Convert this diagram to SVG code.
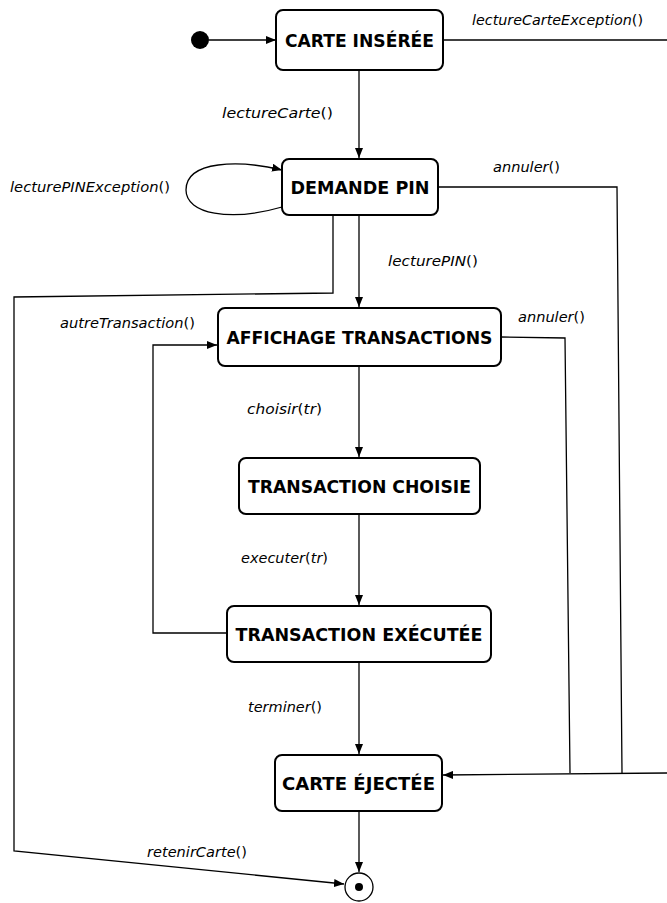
<svg xmlns="http://www.w3.org/2000/svg" width="667" height="903" viewBox="0 0 667 903">
<style>
.box{fill:#fff;stroke:#000;stroke-width:2}
.t{font-family:"DejaVu Sans","Open Sans",sans-serif;font-weight:bold;font-size:17.5px;text-anchor:middle;fill:#000}
.l{font-family:"DejaVu Sans","Open Sans",sans-serif;font-style:italic;font-size:13.5px;fill:#000}
.u{font-style:normal}
.c{fill:none;stroke:#000;stroke-width:1.3}
</style>
<defs>
<marker id="a" viewBox="0 0 10 8" refX="10" refY="4" markerWidth="10" markerHeight="8" markerUnits="userSpaceOnUse" orient="auto">
<path d="M0,0 L10,4 L0,8 z" fill="#000"/>
</marker>
</defs>
<g id="connectors">
<line class="c" x1="209" y1="40" x2="276" y2="40" marker-end="url(#a)"/>
<line class="c" x1="443" y1="40" x2="667" y2="40"/>
<line class="c" x1="359" y1="70" x2="359" y2="158" marker-end="url(#a)"/>
<path class="c" d="M282,207 C230,222 186,214 186,190 C186,160 240,160 282,170" marker-end="url(#a)"/>
<polyline class="c" points="438,187 617,187 622,773"/>
<line class="c" x1="667" y1="773" x2="443" y2="775" marker-end="url(#a)"/>
<polyline class="c" points="333,215 333,293 14,297 14,851 344,884" marker-end="url(#a)"/>
<line class="c" x1="359" y1="215" x2="359" y2="307" marker-end="url(#a)"/>
<polyline class="c" points="501,337 565,338 570,773"/>
<line class="c" x1="359" y1="366" x2="359" y2="457" marker-end="url(#a)"/>
<line class="c" x1="359" y1="514" x2="359" y2="605" marker-end="url(#a)"/>
<polyline class="c" points="227,633 153,633 153,345 217,345" marker-end="url(#a)"/>
<line class="c" x1="359" y1="662" x2="359" y2="754" marker-end="url(#a)"/>
<line class="c" x1="359" y1="811" x2="359" y2="872" marker-end="url(#a)"/>
<text class="l" x="472" y="25" textLength="171" lengthAdjust="spacingAndGlyphs">lectureCarteException<tspan class="u">()</tspan></text>
<text class="l" x="222" y="118" textLength="111" lengthAdjust="spacingAndGlyphs">lectureCarte<tspan class="u">()</tspan></text>
<text class="l" x="10" y="192" textLength="160" lengthAdjust="spacingAndGlyphs">lecturePINException<tspan class="u">()</tspan></text>
<text class="l" x="493" y="172" textLength="67" lengthAdjust="spacingAndGlyphs">annuler<tspan class="u">()</tspan></text>
<text class="l" x="388" y="266" textLength="90" lengthAdjust="spacingAndGlyphs">lecturePIN<tspan class="u">()</tspan></text>
<text class="l" x="60" y="328" textLength="135" lengthAdjust="spacingAndGlyphs">autreTransaction<tspan class="u">()</tspan></text>
<text class="l" x="518" y="322" textLength="67" lengthAdjust="spacingAndGlyphs">annuler<tspan class="u">()</tspan></text>
<text class="l" x="247" y="414" textLength="75" lengthAdjust="spacingAndGlyphs">choisir<tspan class="u">(</tspan>tr<tspan class="u">)</tspan></text>
<text class="l" x="241" y="563" textLength="87" lengthAdjust="spacingAndGlyphs">executer<tspan class="u">(</tspan>tr<tspan class="u">)</tspan></text>
<text class="l" x="248" y="712" textLength="74" lengthAdjust="spacingAndGlyphs">terminer<tspan class="u">()</tspan></text>
<text class="l" x="147" y="857" textLength="100" lengthAdjust="spacingAndGlyphs">retenirCarte<tspan class="u">()</tspan></text>
</g>
<g id="initial"><circle cx="200" cy="40" r="9" fill="#000"/></g>
<g id="carte-inseree"><rect class="box" x="276" y="10" width="167" height="60" rx="7"/><text class="t" x="359.5" y="46.5" textLength="149" lengthAdjust="spacingAndGlyphs">CARTE INSÉRÉE</text></g>
<g id="demande-pin"><rect class="box" x="282" y="159" width="156" height="56" rx="7"/><text class="t" x="360" y="193.5" textLength="139" lengthAdjust="spacingAndGlyphs">DEMANDE PIN</text></g>
<g id="affichage-transactions"><rect class="box" x="218" y="308" width="283" height="58" rx="7"/><text class="t" x="359.5" y="343.5" textLength="266" lengthAdjust="spacingAndGlyphs">AFFICHAGE TRANSACTIONS</text></g>
<g id="transaction-choisie"><rect class="box" x="239" y="458" width="241" height="56" rx="7"/><text class="t" x="359.5" y="492.5" textLength="223" lengthAdjust="spacingAndGlyphs">TRANSACTION CHOISIE</text></g>
<g id="transaction-executee"><rect class="box" x="227" y="606" width="264" height="56" rx="7"/><text class="t" x="359" y="640.5" textLength="247" lengthAdjust="spacingAndGlyphs">TRANSACTION EXÉCUTÉE</text></g>
<g id="carte-ejectee"><rect class="box" x="275" y="755" width="167" height="56" rx="7"/><text class="t" x="358.5" y="789.5" textLength="153" lengthAdjust="spacingAndGlyphs">CARTE ÉJECTÉE</text></g>
<g id="final"><circle cx="359" cy="887" r="14" fill="#fff" stroke="#000" stroke-width="1.3"/><circle cx="359" cy="887" r="4" fill="#000"/></g>
</svg>
